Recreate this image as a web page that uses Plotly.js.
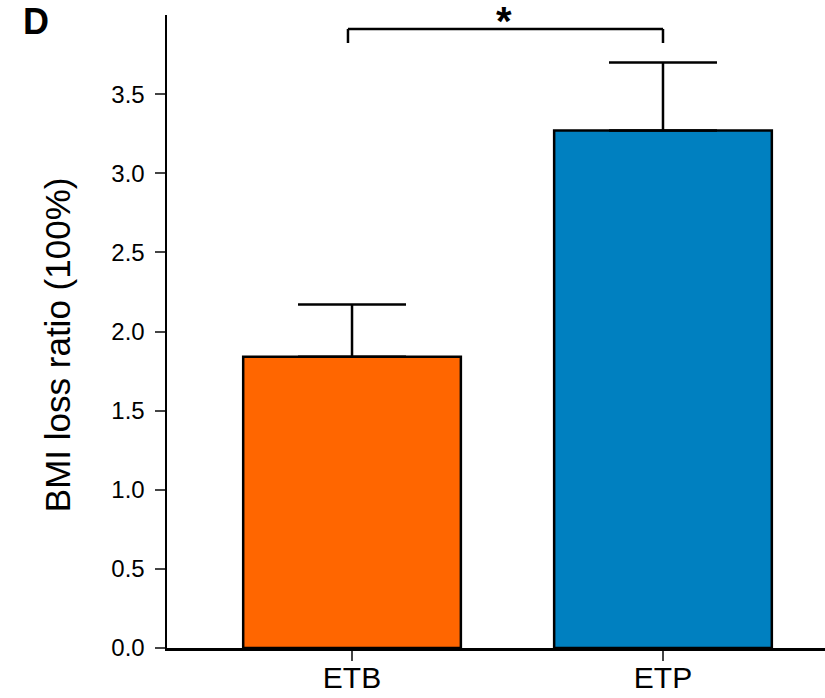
<!DOCTYPE html>
<html>
<head>
<meta charset="utf-8">
<script src="https://cdn.plot.ly/plotly-3.0.1.min.js"></script>
<style>
  html, body { margin: 0; padding: 0; background: #ffffff; }
  #chart { width: 825px; height: 698px; }
</style>
</head>
<body>
<div id="chart"></div>
<script>
// Groups compared and their BMI loss ratio (mean, SEM)
const groups = ['ETB', 'ETP'];
const meanLoss = [1.84, 3.27];
const semLoss = [0.33, 0.43];
const barColors = ['#FF6600', '#0080C0'];
const yTicks = [0, 0.5, 1.0, 1.5, 2.0, 2.5, 3.0, 3.5];
const yTickText = ['0.0', '0.5', '1.0', '1.5', '2.0', '2.5', '3.0', '3.5'];
const yTitle = 'BMI loss ratio (100%)';

// Significance bracket between the two groups
const sigLabel = '*';
const bracketLevel = 3.912;
const bracketDrop = 3.823;

const FONT = '"Liberation Sans", Arial, Helvetica, sans-serif';

const trace = {
  type: 'bar',
  x: groups,
  y: meanLoss,
  width: 0.7,
  marker: {
    color: barColors,
    line: { color: '#000000', width: 2.5 }
  },
  error_y: {
    type: 'data',
    symmetric: false,
    array: semLoss,
    arrayminus: semLoss.map(() => 0),
    color: '#000000',
    thickness: 2.5,
    width: 54
  },
  hoverinfo: 'x+y'
};

const layout = {
  width: 825,
  height: 698,
  margin: { l: 167, r: 0, t: 15, b: 50 },
  paper_bgcolor: '#ffffff',
  plot_bgcolor: '#ffffff',
  showlegend: false,
  font: { family: FONT, color: '#000000' },
  xaxis: {
    type: 'category',
    range: [-0.595, 1.521],
    showline: true,
    linecolor: '#000000',
    linewidth: 2.5,
    ticks: 'outside',
    ticklen: 10,
    tickwidth: 2,
    tickcolor: '#444444',
    ticklabelstandoff: -9,
    showgrid: false,
    zeroline: false,
    tickfont: { family: FONT, size: 30, color: '#000000' }
  },
  yaxis: {
    range: [0, 4.0],
    tickvals: yTicks,
    ticktext: yTickText,
    showline: true,
    linecolor: '#000000',
    linewidth: 2.5,
    ticks: 'outside',
    ticklen: 10,
    tickwidth: 2,
    tickcolor: '#444444',
    ticklabelstandoff: 5,
    showgrid: false,
    zeroline: false,
    tickfont: { family: FONT, size: 24, color: '#000000' }
  },
  shapes: [
    { type: 'line', xref: 'x', yref: 'y', x0: -0.013, x1: 1.0, y0: bracketLevel, y1: bracketLevel,
      line: { color: '#000000', width: 2.5 } },
    { type: 'line', xref: 'x', yref: 'y', x0: -0.013, x1: -0.013, y0: bracketLevel, y1: bracketDrop,
      line: { color: '#000000', width: 2.5 } },
    { type: 'line', xref: 'x', yref: 'y', x0: 1.0, x1: 1.0, y0: bracketLevel, y1: bracketDrop,
      line: { color: '#000000', width: 2.5 } }
  ],
  annotations: [
    {
      // vertical axis title
      text: yTitle, xref: 'paper', yref: 'paper', x: -0.1672, y: 0.48,
      xanchor: 'center', yanchor: 'middle', textangle: -90, showarrow: false,
      font: { family: FONT, size: 35, color: '#000000' }
    },
    {
      text: sigLabel, xref: 'x', yref: 'y', x: 0.49, y: bracketLevel,
      xanchor: 'center', yanchor: 'bottom', showarrow: false,
      font: { family: FONT, size: 40, color: '#000000', weight: 'bold' },
      yshift: -16
    },
    {
      text: '<b>D</b>', xref: 'paper', yref: 'paper', x: -0.222, y: 0.99,
      xanchor: 'left', yanchor: 'middle', showarrow: false,
      font: { family: FONT, size: 36, color: '#000000' }
    }
  ]
};

Plotly.newPlot('chart', [trace], layout, { displayModeBar: false, staticPlot: true });
</script>
</body>
</html>
